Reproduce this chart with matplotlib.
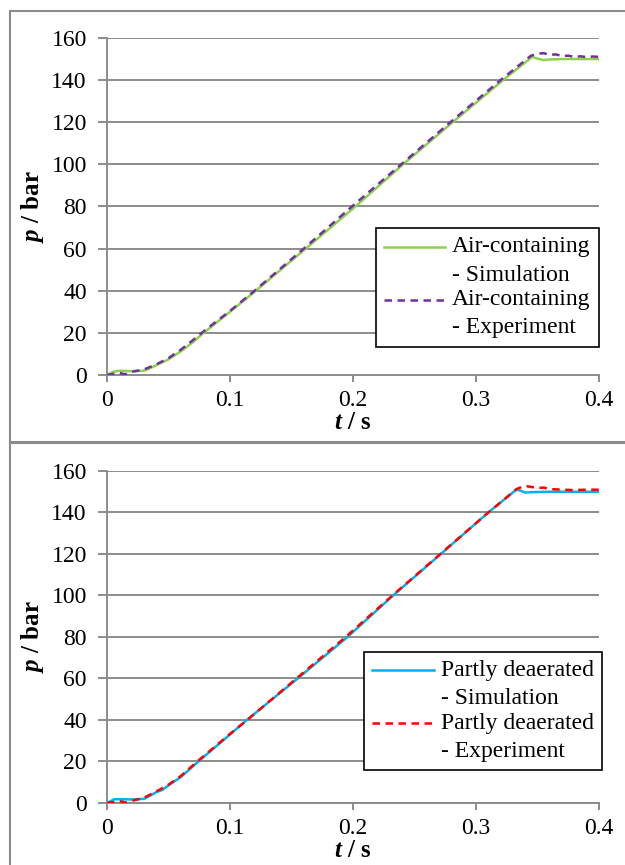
import matplotlib
matplotlib.use("Agg")
import matplotlib.pyplot as plt
from matplotlib.patches import Rectangle
from matplotlib.legend_handler import HandlerLine2D

plt.rcParams['font.family'] = ['Liberation Serif', 'DejaVu Serif']
plt.rcParams['mathtext.fontset'] = 'custom'
plt.rcParams['mathtext.rm'] = 'Liberation Serif'
plt.rcParams['mathtext.it'] = 'Liberation Serif:italic'
plt.rcParams['mathtext.bf'] = 'Liberation Serif:bold'
plt.rcParams['mathtext.bfit'] = 'Liberation Serif:italic:bold'

# Oben: lufthaltiges Oel
t_air_sim = [0, 0.005, 0.01, 0.02, 0.03, 0.035, 0.04, 0.05, 0.06, 0.07, 0.0775,
             0.1, 0.121, 0.1616, 0.202, 0.2407, 0.281, 0.322, 0.3457,
             0.35, 0.355, 0.36, 0.37, 0.38, 0.4]
p_air_sim = [0, 1.5, 2.0, 1.8, 2.0, 3.2, 4.6, 7.4, 11.2, 15.6, 19.5,
             30.0, 40.0, 60.0, 80.0, 100.0, 120.0, 140.0, 151.0,
             150.2, 149.5, 149.8, 150.0, 150.0, 150.0]
t_air_exp = [0, 0.005, 0.01, 0.015, 0.02, 0.03, 0.04, 0.05, 0.06, 0.07, 0.077,
             0.1, 0.12, 0.16, 0.2, 0.24, 0.28, 0.32, 0.3445,
             0.35, 0.355, 0.36, 0.365, 0.37, 0.375, 0.38, 0.385, 0.39, 0.395, 0.4]
p_air_exp = [0, 0.5, 1.0, 0.3, 1.5, 2.6, 5.0, 8.0, 12.0, 16.6, 20.0,
             30.4, 40.0, 60.0, 80.4, 100.4, 120.4, 140.0, 151.5,
             152.5, 152.8, 152.0, 152.2, 151.4, 151.6, 151.0, 151.3, 150.9, 151.2, 151.0]

# Unten: teilentgastes Oel
t_dea_sim = [0, 0.006, 0.01, 0.02, 0.03, 0.035, 0.04, 0.045, 0.05, 0.06, 0.0743,
             0.1, 0.1137, 0.155, 0.1955, 0.2326, 0.2714, 0.31, 0.3328,
             0.336, 0.34, 0.345, 0.36, 0.38, 0.4]
p_dea_sim = [0, 1.8, 1.8, 1.7, 2.0, 3.5, 5.2, 6.3, 8.5, 12.5, 20.0,
             33.0, 40.0, 60.0, 80.0, 100.0, 120.0, 140.0, 151.0,
             150.6, 149.6, 149.8, 150.0, 150.0, 150.0]
t_dea_exp = [0, 0.005, 0.01, 0.015, 0.02, 0.03, 0.04, 0.05, 0.06, 0.074,
             0.1, 0.115, 0.155, 0.195, 0.233, 0.272, 0.31, 0.333,
             0.337, 0.342, 0.35, 0.355, 0.36, 0.37, 0.38, 0.39, 0.4]
p_dea_exp = [0, 0.4, 1.0, 0.2, 1.0, 2.5, 5.5, 8.8, 13.0, 20.3,
             33.3, 40.5, 60.5, 80.5, 100.5, 120.5, 140.0, 151.3,
             152.3, 152.6, 151.8, 152.0, 151.3, 151.0, 150.8, 151.0, 151.0]

xticks = [0, 0.1, 0.2, 0.3, 0.4]
xticklabels = ['0', '0.1', '0.2', '0.3', '0.4']
yticks = [0, 20, 40, 60, 80, 100, 120, 140, 160]

panels = [
    (t_air_sim, p_air_sim, t_air_exp, p_air_exp, '#8fd14f', '#7030a0',
     'Air-containing\n- Simulation', 'Air-containing\n- Experiment',
     [0.1712, 0.5665, 0.7872, 0.3896], (1.0, 0.436)),
    (t_dea_sim, p_dea_sim, t_dea_exp, p_dea_exp, '#00b0f0', '#ff0000',
     'Partly deaerated\n- Simulation', 'Partly deaerated\n- Experiment',
     [0.1712, 0.0717, 0.7872, 0.3838], (1.006, 0.456)),
]


class UpperLineHandler(HandlerLine2D):
    # Legendenlinie auf Hoehe der ersten Textzeile
    def create_artists(self, legend, orig_handle, xdescent, ydescent,
                       width, height, fontsize, trans):
        arts = super().create_artists(legend, orig_handle, xdescent, ydescent,
                                      width, height, fontsize, trans)
        for a in arts:
            a.set_ydata([y + 0.58 * fontsize for y in a.get_ydata()])
        return arts


fig = plt.figure(figsize=(6.25, 8.65), dpi=100)

# graue Rahmen um beide Diagramme
H = 865.0
fig.patches.append(Rectangle((10 / 625, 1 - 442 / H), 1.2, (442 - 11) / H,
                             transform=fig.transFigure, fill=False,
                             edgecolor='#8c8c8c', linewidth=1.5))
fig.patches.append(Rectangle((10 / 625, -0.05), 1.2, 1 - 443 / H + 0.05,
                             transform=fig.transFigure, fill=False,
                             edgecolor='#8c8c8c', linewidth=1.5))

for ts, ps, te, pe, c_sim, c_exp, lab_sim, lab_exp, rect, anchor in panels:
    ax = fig.add_axes(rect)
    l1, = ax.plot(ts, ps, color=c_sim, linewidth=1.8, label=lab_sim, zorder=3)
    l2, = ax.plot(te, pe, color=c_exp, linewidth=1.8, linestyle=(0, (3, 2.2)),
                  label=lab_exp, zorder=4)
    ax.set_xlim(0, 0.4)
    ax.set_ylim(0, 160)
    ax.set_xticks(xticks)
    ax.set_xticklabels(xticklabels)
    ax.set_yticks(yticks)
    ax.yaxis.grid(True, color='#8c8c8c', linewidth=1.4)
    ax.set_axisbelow(True)
    for s in ['top', 'right']:
        ax.spines[s].set_visible(False)
    for s in ['left', 'bottom']:
        ax.spines[s].set_color('#8c8c8c')
        ax.spines[s].set_linewidth(1.4)
    ax.tick_params(axis='both', labelsize=17, color='#8c8c8c', width=1.4,
                   direction='out')
    ax.tick_params(axis='y', length=6.5, pad=8)
    ax.tick_params(axis='x', length=5, pad=6)
    ax.set_xlabel(r'$\mathbfit{t}$ / s', fontsize=18, fontweight='bold',
                  labelpad=0)
    ax.set_ylabel(r'$\mathbfit{p}$ / bar', fontsize=18, fontweight='bold',
                  labelpad=4)
    leg = ax.legend(loc='upper right', bbox_to_anchor=anchor, fontsize=17,
                    frameon=True, fancybox=False, handlelength=2.6,
                    handletextpad=0.3, borderpad=0.35, labelspacing=0.15,
                    borderaxespad=0,
                    handler_map={l1: UpperLineHandler(), l2: UpperLineHandler()})
    for txt in leg.get_texts():
        txt.set_linespacing(1.45)
    leg.get_frame().set_edgecolor('black')
    leg.get_frame().set_linewidth(1.2)
    leg.get_frame().set_alpha(1)

fig.savefig('out.png', dpi=100)
